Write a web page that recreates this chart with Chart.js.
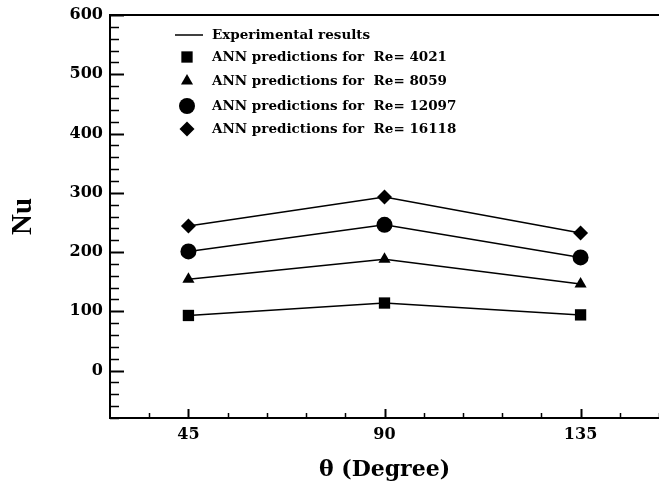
<!DOCTYPE html>
<html>
<head>
<meta charset="utf-8">
<script src="https://cdn.jsdelivr.net/npm/chart.js@4.4.0/dist/chart.umd.min.js"></script>
<style>
  html, body { margin: 0; padding: 0; background: #fff; }
  #wrap { width: 659px; height: 483px; position: relative; }
</style>
</head>
<body>
<div id="wrap"><canvas id="nu-chart"></canvas></div>
<script>
// ── Data ──────────────────────────────────────────────────────
const ANGLES     = [45, 90, 135];
const RE_VALUES  = ['4021', '8059', '12097', '16118'];
const NU_RE4021  = [93, 114, 94];
const NU_RE8059  = [154, 188, 146];
const NU_RE12097 = [201, 246, 191];
const NU_RE16118 = [244, 293, 232];
const X_TICKS    = [45, 90, 135];
const Y_TICKS    = [0, 100, 200, 300, 400, 500, 600];

const SERIES  = [NU_RE4021, NU_RE8059, NU_RE12097, NU_RE16118];
const MARKERS = [
    { style: 'rect',     r: 8   },
    { style: 'triangle', r: 7   },
    { style: 'circle',   r: 8   },
    { style: 'rectRot',  r: 7.5 },
];

const SERIF = "'DejaVu Serif', 'Liberation Serif', serif";
const toPts = arr => arr.map((v, i) => ({ x: ANGLES[i], y: v }));

// experimental curves (plain lines) + ANN markers
const lineSets = SERIES.map(s => ({
    label: 'Experimental results',
    data: toPts(s),
    borderColor: '#000', borderWidth: 1.5,
    pointRadius: 0, fill: false, tension: 0,
}));
const annSets = SERIES.map((s, i) => ({
    label: `ANN predictions for  Re= ${RE_VALUES[i]}`,
    data: toPts(s),
    showLine: false,
    pointStyle: MARKERS[i].style,
    pointRadius: MARKERS[i].r,
    pointBackgroundColor: '#000', pointBorderColor: '#000', pointBorderWidth: 0,
}));

// ── Inward ticks, top frame line, legend ─────────────────────
const framePlugin = {
    id: 'frame',
    afterDraw(chart) {
        const { ctx, chartArea: a, scales: { x, y } } = chart;
        ctx.save();
        ctx.strokeStyle = '#000';

        // y ticks: major every 100, minor every 20
        for (let v = -80; v <= 600; v += 20) {
            const py = Math.round(y.getPixelForValue(v)) + 0.5;
            const major = v % 100 === 0;
            ctx.lineWidth = major ? 2 : 1.5;
            ctx.beginPath();
            ctx.moveTo(a.left, py);
            ctx.lineTo(a.left + (major ? 14 : 9), py);
            ctx.stroke();
        }
        // x ticks: major every 45, minor every 9
        for (let v = 36; v <= 153; v += 9) {
            const px = Math.round(x.getPixelForValue(v)) + 0.5;
            const major = v % 45 === 0;
            ctx.lineWidth = major ? 2 : 1.5;
            ctx.beginPath();
            ctx.moveTo(px, a.bottom);
            ctx.lineTo(px, a.bottom - (major ? 9 : 5));
            ctx.stroke();
        }
        // top frame
        ctx.lineWidth = 2;
        ctx.beginPath();
        ctx.moveTo(a.left, a.top);
        ctx.lineTo(a.right, a.top);
        ctx.stroke();

        // legend
        const lx = 187, tx = 212;
        const rows = [35, 57, 81, 106, 129];
        ctx.fillStyle = '#000';
        ctx.font = `bold 13.5px ${SERIF}`;
        ctx.textBaseline = 'middle';
        ctx.textAlign = 'left';

        ctx.lineWidth = 1.5;
        ctx.beginPath();
        ctx.moveTo(175, rows[0]);
        ctx.lineTo(203, rows[0]);
        ctx.stroke();
        ctx.fillText(lineSets[0].label, tx, rows[0]);

        annSets.forEach((ds, i) => {
            Chart.helpers.drawPoint(ctx, {
                pointStyle: ds.pointStyle, radius: ds.pointRadius, rotation: 0, borderWidth: 0,
            }, lx, rows[i + 1]);
            ctx.fillText(ds.label, tx, rows[i + 1]);
        });
        ctx.restore();
    },
};

new Chart(document.getElementById('nu-chart'), {
    type: 'line',
    data: { datasets: [...lineSets, ...annSets] },
    options: {
        responsive: true, maintainAspectRatio: false, animation: false,
        layout: { autoPadding: false, padding: { left: 0, top: 15, right: 0, bottom: 0 } },
        plugins: { legend: { display: false }, tooltip: { enabled: false } },
        scales: {
            x: {
                type: 'linear', min: 27, max: 153,
                afterBuildTicks: s => { s.ticks = X_TICKS.map(v => ({ value: v })); },
                afterFit: s => { s.height = 65; s.paddingLeft = 0; s.paddingRight = 0; },
                grid: { display: false, drawTicks: false },
                border: { display: true, color: '#000', width: 2 },
                ticks: { color: '#000', padding: 7, font: { family: SERIF, size: 16, weight: 'bold' } },
                title: {
                    display: true, text: 'θ (Degree)', color: '#000',
                    padding: { top: 0, bottom: 0 },
                    font: { family: SERIF, size: 22, weight: 'bold' },
                },
            },
            y: {
                type: 'linear', min: -80, max: 600,
                afterBuildTicks: s => { s.ticks = Y_TICKS.map(v => ({ value: v })); },
                afterFit: s => { s.width = 110; s.paddingTop = 0; s.paddingBottom = 0; },
                grid: { display: false, drawTicks: false },
                border: { display: true, color: '#000', width: 2 },
                ticks: { color: '#000', padding: 7, font: { family: SERIF, size: 16, weight: 'bold' } },
                title: {
                    display: true, text: 'Nu', color: '#000',
                    padding: { top: 6, bottom: 0 },
                    font: { family: "'Liberation Serif', serif", size: 29, weight: 'bold' },
                },
            },
        },
    },
    plugins: [framePlugin],
});
</script>
</body>
</html>
